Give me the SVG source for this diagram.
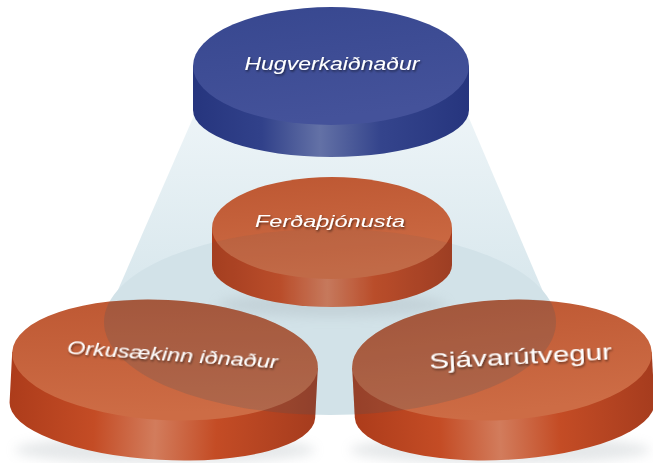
<svg xmlns="http://www.w3.org/2000/svg" width="653" height="463" viewBox="0 0 653 463">
<style>
.lbl{font-family:"Liberation Sans","DejaVu Sans",sans-serif;fill:#ffffff;text-anchor:middle;filter:url(#ts)}
.it{font-style:italic}
.ov{fill:#3c5466}
</style>
<defs>
<filter id="ts" x="-10%" y="-40%" width="120%" height="180%">
<feDropShadow dx="1" dy="1.5" stdDeviation="1" flood-color="#000" flood-opacity="0.55"/>
</filter>
<filter id="blur" x="-20%" y="-50%" width="140%" height="200%"><feGaussianBlur stdDeviation="6"/></filter>
<linearGradient id="funG" x1="0" y1="0" x2="0" y2="1">
<stop offset="0" stop-color="#eef5f8"/><stop offset="1" stop-color="#d5e5eb"/>
</linearGradient>
<linearGradient id="blueSide" x1="0" y1="0" x2="1" y2="0">
<stop offset="0" stop-color="#26357e"/><stop offset="0.25" stop-color="#31418a"/><stop offset="0.46" stop-color="#6371a6"/><stop offset="0.68" stop-color="#34448c"/><stop offset="1" stop-color="#26357e"/>
</linearGradient>
<linearGradient id="blueTop" x1="0" y1="0" x2="0.3" y2="1">
<stop offset="0" stop-color="#37478f"/><stop offset="1" stop-color="#44529a"/>
</linearGradient>
<linearGradient id="orSide" x1="0" y1="0" x2="1" y2="0">
<stop offset="0" stop-color="#ad3c1b"/><stop offset="0.28" stop-color="#c44c25"/><stop offset="0.48" stop-color="#d27c5c"/><stop offset="0.68" stop-color="#c44c25"/><stop offset="1" stop-color="#a63c1e"/>
</linearGradient>
<linearGradient id="orTop" x1="0" y1="0" x2="0.2" y2="1">
<stop offset="0" stop-color="#bd5732"/><stop offset="1" stop-color="#cd6c45"/>
</linearGradient>
<clipPath id="clipC">
<ellipse cx="332" cy="228" rx="120" ry="51"/>
<path d="M212,228 L212,265 A120,42 0 0 0 452,265 L452,228 Z"/>
</clipPath>
<clipPath id="clipL">
<ellipse cx="165" cy="360" rx="153" ry="60" transform="rotate(3 165 360)"/>
<path d="M12,360 L12,410 A153,50 0 0 0 318,410 L318,360 Z" transform="rotate(3 165 360)"/>
</clipPath>
<clipPath id="clipR">
<ellipse cx="502" cy="360" rx="150" ry="60" transform="rotate(-3 502 360)"/>
<path d="M352,360 L352,410 A150,50 0 0 0 652,410 L652,360 Z" transform="rotate(-3 502 360)"/>
</clipPath>
</defs>
<rect width="653" height="463" fill="#ffffff"/>

<g id="funnel">
<path d="M199,104 L463,104 L556,322 L104,322 Z" fill="url(#funG)"/>
<ellipse cx="330" cy="322" rx="226" ry="93" fill="#d2e2e8"/>
<ellipse cx="165" cy="450" rx="150" ry="14" fill="#aab3b8" opacity="0.3" filter="url(#blur)"/>
<ellipse cx="500" cy="450" rx="150" ry="14" fill="#aab3b8" opacity="0.3" filter="url(#blur)"/>
<ellipse cx="332" cy="305" rx="115" ry="12" fill="#9aa4aa" opacity="0.25" filter="url(#blur)"/>
</g>

<g id="node-hugverk">
<path d="M193,66 L193,110 A138,47 0 0 0 469,110 L469,66 Z" fill="url(#blueSide)"/>
<ellipse cx="331" cy="66" rx="138" ry="59" fill="url(#blueTop)"/>
<text class="lbl it" x="332" y="70" font-size="19" textLength="175" lengthAdjust="spacingAndGlyphs">Hugverkaiðnaður</text>
</g>

<g id="node-ferda">
<path d="M212,228 L212,265 A120,42 0 0 0 452,265 L452,228 Z" fill="url(#orSide)"/>
<ellipse cx="332" cy="228" rx="120" ry="51" fill="url(#orTop)"/>
<ellipse cx="330" cy="322" rx="226" ry="93" class="ov" style="opacity:0.08" clip-path="url(#clipC)"/>
<text class="lbl it" x="330" y="227" font-size="17" textLength="150" lengthAdjust="spacingAndGlyphs">Ferðaþjónusta</text>
</g>

<g id="node-orka">
<g transform="rotate(3 165 360)">
<path d="M12,360 L12,410 A153,50 0 0 0 318,410 L318,360 Z" fill="url(#orSide)"/>
<ellipse cx="165" cy="360" rx="153" ry="60" fill="url(#orTop)"/>
</g>
<ellipse cx="330" cy="322" rx="226" ry="93" class="ov" style="opacity:0.2" clip-path="url(#clipL)"/>
<text class="lbl it" x="172" y="361" font-size="19" textLength="211" lengthAdjust="spacingAndGlyphs" transform="rotate(4 172 361)">Orkusækinn iðnaður</text>
</g>

<g id="node-sjavar">
<g transform="rotate(-3 502 360)">
<path d="M352,360 L352,410 A150,50 0 0 0 652,410 L652,360 Z" fill="url(#orSide)"/>
<ellipse cx="502" cy="360" rx="150" ry="60" fill="url(#orTop)"/>
</g>
<ellipse cx="330" cy="322" rx="226" ry="93" class="ov" style="opacity:0.2" clip-path="url(#clipR)"/>
<text class="lbl" x="521" y="364" font-size="22" textLength="183" lengthAdjust="spacingAndGlyphs" transform="rotate(-3 521 364)">Sjávarútvegur</text>
</g>
</svg>
